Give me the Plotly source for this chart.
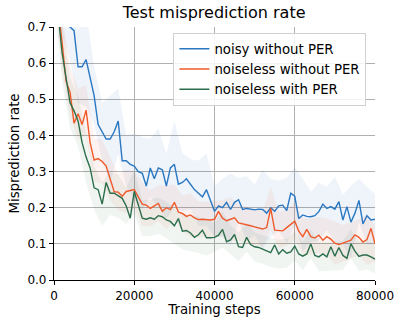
import plotly.graph_objects as go

steps = list(range(0, 80001, 1000))
band_steps = list(range(0, 80001, 2000))

noisy_without_per = [
    0.95, 0.85, 0.78, 0.73, 0.70, 0.69, 0.59, 0.59, 0.61, 0.56,
    0.51, 0.43, 0.41, 0.39, 0.39, 0.41, 0.44, 0.33, 0.33, 0.32,
    0.315, 0.30, 0.295, 0.26, 0.31, 0.28, 0.31, 0.305, 0.26, 0.31,
    0.32, 0.265, 0.27, 0.28, 0.265, 0.25, 0.24, 0.23, 0.25, 0.22,
    0.19, 0.205, 0.20, 0.215, 0.195, 0.215, 0.222, 0.195, 0.198, 0.196,
    0.194, 0.196, 0.195, 0.185, 0.20, 0.19, 0.205, 0.207, 0.192, 0.24,
    0.232, 0.17, 0.18, 0.176, 0.175, 0.178, 0.189, 0.21, 0.198, 0.203,
    0.196, 0.217, 0.166, 0.203, 0.16, 0.185, 0.22, 0.155, 0.178, 0.166,
    0.168,
]
noiseless_without_per = [
    0.85, 0.76, 0.66, 0.55, 0.52, 0.434, 0.46, 0.43, 0.47, 0.38,
    0.332, 0.336, 0.328, 0.315, 0.28, 0.244, 0.243, 0.232, 0.245, 0.248,
    0.25, 0.23, 0.21, 0.207, 0.198, 0.205, 0.212, 0.19, 0.20, 0.195,
    0.215, 0.188, 0.184, 0.176, 0.18, 0.172, 0.167, 0.168, 0.167, 0.166,
    0.168, 0.19, 0.171, 0.164, 0.168, 0.172, 0.158, 0.156, 0.153, 0.15,
    0.147, 0.144, 0.141, 0.145, 0.198, 0.138, 0.138, 0.136, 0.145, 0.155,
    0.163, 0.135, 0.12, 0.14, 0.12, 0.116, 0.124, 0.11, 0.12, 0.113,
    0.102, 0.098, 0.102, 0.104, 0.11, 0.125, 0.118, 0.105, 0.112, 0.143,
    0.10,
]
noiseless_with_per = [
    0.88, 0.74, 0.63, 0.56, 0.49, 0.468, 0.44, 0.38, 0.34, 0.31,
    0.255, 0.25, 0.21, 0.27, 0.24, 0.24, 0.232, 0.226, 0.205, 0.171,
    0.245, 0.21, 0.171, 0.168, 0.172, 0.168, 0.178, 0.175, 0.166, 0.162,
    0.15, 0.17, 0.135, 0.137, 0.13, 0.118, 0.125, 0.138, 0.117, 0.117,
    0.118, 0.124, 0.14, 0.106, 0.111, 0.126, 0.092, 0.09, 0.118, 0.098,
    0.092, 0.09, 0.085, 0.079, 0.076, 0.097, 0.072, 0.084, 0.074, 0.078,
    0.094, 0.072, 0.066, 0.072, 0.1, 0.068, 0.064, 0.072, 0.064, 0.092,
    0.066, 0.09, 0.068, 0.06, 0.1, 0.08, 0.065, 0.069, 0.069, 0.064,
    0.058,
]

# half-width of shaded spread, every 2000 steps
noisy_spread = [
    0.10, 0.10, 0.09, 0.10, 0.13, 0.08, 0.08, 0.12, 0.09, 0.07,
    0.09, 0.10, 0.08, 0.11, 0.09, 0.12, 0.08, 0.07, 0.09, 0.10,
    0.07, 0.08, 0.10, 0.06, 0.09, 0.07, 0.11, 0.08, 0.07, 0.09,
    0.08, 0.10, 0.07, 0.08, 0.06, 0.09, 0.07, 0.10, 0.06, 0.08,
    0.07,
]
noiseless_spread = [
    0.08, 0.08, 0.07, 0.07, 0.07, 0.06, 0.06, 0.06, 0.05, 0.06,
    0.05, 0.06, 0.05, 0.05, 0.06, 0.05, 0.05, 0.06, 0.05, 0.05,
    0.05, 0.05, 0.06, 0.05, 0.05, 0.05, 0.05, 0.06, 0.05, 0.05,
    0.05, 0.05, 0.05, 0.05, 0.05, 0.06, 0.05, 0.05, 0.05, 0.07,
    0.05,
]
per_spread = [
    0.08, 0.08, 0.07, 0.07, 0.07, 0.06, 0.06, 0.06, 0.06, 0.05,
    0.06, 0.05, 0.05, 0.05, 0.05, 0.05, 0.05, 0.05, 0.05, 0.05,
    0.04, 0.05, 0.04, 0.04, 0.04, 0.04, 0.04, 0.04, 0.04, 0.04,
    0.04, 0.04, 0.04, 0.04, 0.04, 0.04, 0.04, 0.04, 0.04, 0.04,
    0.04,
]

series = [
    ("noisy without PER", noisy_without_per, noisy_spread, "#2a77c2", "rgba(42,119,194,0.08)"),
    ("noiseless without PER", noiseless_without_per, noiseless_spread, "#ef5a2a", "rgba(239,90,42,0.07)"),
    ("noiseless with PER", noiseless_with_per, per_spread, "#2b6e4b", "rgba(43,110,75,0.07)"),
]

fig = go.Figure()
for name, vals, spread, color, fill in series:
    centers = vals[::2]
    upper = [c + s for c, s in zip(centers, spread)]
    lower = [c - s for c, s in zip(centers, spread)]
    fig.add_trace(go.Scatter(
        x=band_steps + band_steps[::-1], y=upper + lower[::-1],
        fill="toself", fillcolor=fill, line=dict(width=0),
        hoverinfo="skip", showlegend=False, mode="lines",
    ))
for name, vals, spread, color, fill in series:
    fig.add_trace(go.Scatter(
        x=steps, y=vals, mode="lines", name=name,
        line=dict(color=color, width=1.4),
    ))

fig.update_layout(
    width=404, height=320,
    margin=dict(l=54, r=29, t=27, b=40),
    paper_bgcolor="white", plot_bgcolor="white",
    font=dict(family="DejaVu Sans", size=12, color="black"),
    title=dict(text="Test misprediction rate", x=0.53, xanchor="center",
               y=0.96, yanchor="middle", font=dict(size=16)),
    legend=dict(x=0.372, y=0.978, xanchor="left", yanchor="top",
                bgcolor="rgba(255,255,255,0.85)", bordercolor="#d0d0d0",
                borderwidth=1, font=dict(size=13.3), tracegroupgap=0,
                itemwidth=30),
    showlegend=True,
)
fig.update_xaxes(
    range=[0, 80000], tickvals=[0, 20000, 40000, 60000, 80000],
    ticktext=["0", "20000", "40000", "60000", "80000"],
    showgrid=True, gridcolor="#b0b0b0", gridwidth=1,
    showline=True, linecolor="black", linewidth=1.2,
    ticks="outside", ticklen=4, tickcolor="black",
    zeroline=False, automargin=False, tickfont=dict(size=12),
    title=dict(text="Training steps", standoff=3, font=dict(size=13.3)),
)
fig.update_yaxes(
    range=[0, 0.7], tickvals=[0, 0.1, 0.2, 0.3, 0.4, 0.5, 0.6, 0.7],
    ticktext=["0.0", "0.1", "0.2", "0.3", "0.4", "0.5", "0.6", "0.7"],
    showgrid=True, gridcolor="#b0b0b0", gridwidth=1,
    showline=True, linecolor="black", linewidth=1.2,
    ticks="outside", ticklen=4, tickcolor="black",
    zeroline=False, automargin=False, tickfont=dict(size=12),
    title=dict(text="Misprediction rate", standoff=4, font=dict(size=13.3)),
)

fig.write_html("out.html")
